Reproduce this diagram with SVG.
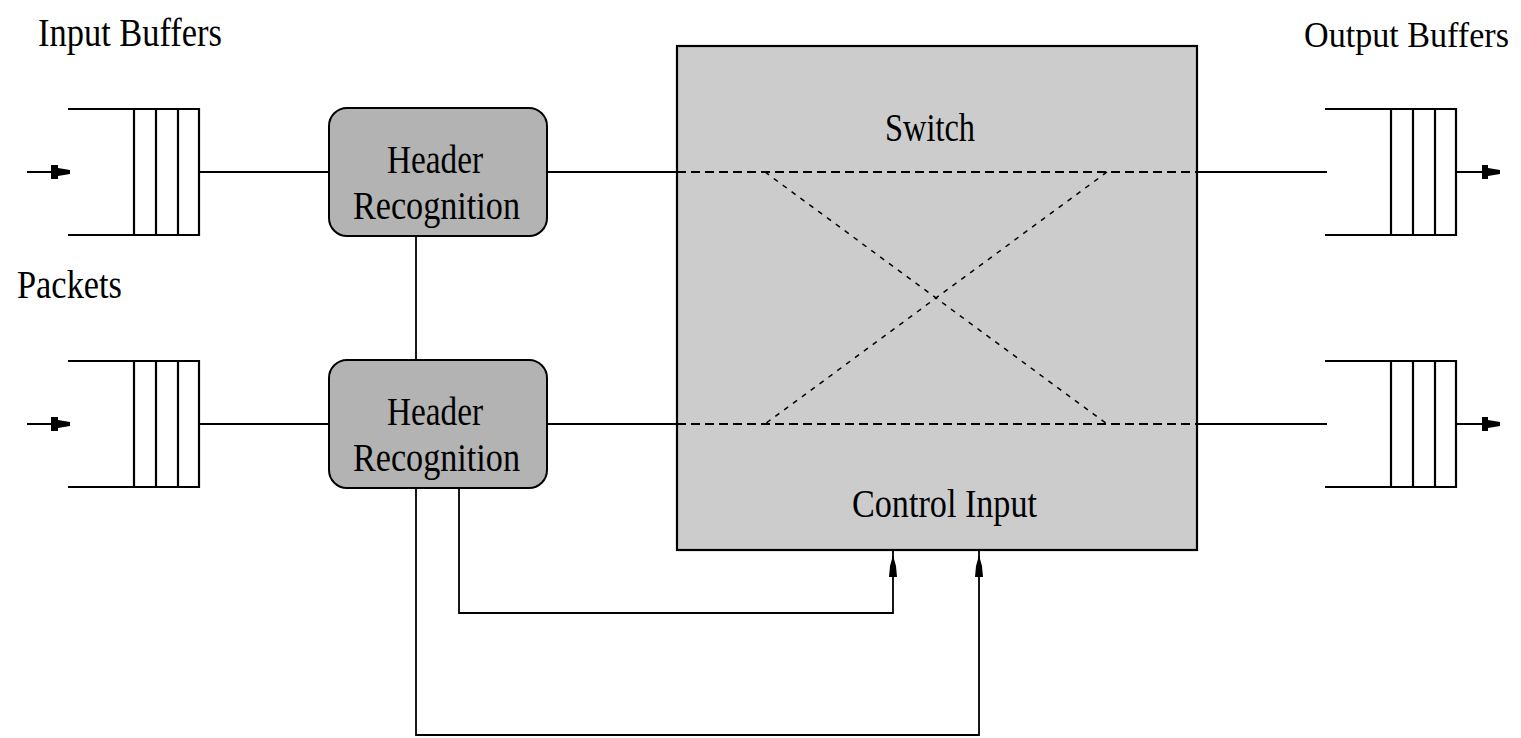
<svg xmlns="http://www.w3.org/2000/svg" width="1521" height="738" viewBox="0 0 1521 738">
<style>
.ln{stroke:#000;stroke-width:2.2;fill:none}
.thin{stroke:#000;stroke-width:1.8;fill:none}
.dash{stroke:#000;stroke-width:2.2;fill:none;stroke-dasharray:9 5}
.dot{stroke:#000;stroke-width:1.5;fill:none;stroke-dasharray:5 6}
.hdr{fill:#b3b3b3;stroke:#000;stroke-width:2}
.sw{fill:#cccccc;stroke:#000;stroke-width:2.2}
.t{font-family:"Liberation Serif","Times New Roman",serif;font-size:41px;fill:#000}
.ah{fill:#000}
</style>
<rect width="1521" height="738" fill="#fff"/>
<defs>
<g id="queue">
<path class="ln" d="M0,0 H131 V126 H0 M66,0 V126 M88,0 V126 M110,0 V126"/>
</g>
</defs>

<g id="labels">
<text class="t" x="38" y="46" textLength="184" lengthAdjust="spacingAndGlyphs">Input Buffers</text>
<text class="t" x="17" y="298" textLength="105" lengthAdjust="spacingAndGlyphs">Packets</text>
<text class="t" x="1304" y="47" textLength="205" lengthAdjust="spacingAndGlyphs" style="font-size:35px">Output Buffers</text>
</g>

<g id="switch">
<rect class="sw" x="677" y="46" width="520" height="504"/>
<text class="t" x="885" y="141" textLength="90" lengthAdjust="spacingAndGlyphs">Switch</text>
<text class="t" x="852" y="517" textLength="185" lengthAdjust="spacingAndGlyphs">Control Input</text>
<line class="dash" x1="677" y1="172" x2="1197" y2="172"/>
<line class="dash" x1="677" y1="424" x2="1197" y2="424"/>
<line class="dot" x1="765" y1="172" x2="1107" y2="424"/>
<line class="dot" x1="1107" y1="172" x2="765" y2="424"/>
</g>

<g id="input-buffer-1"><use href="#queue" x="68" y="109"/></g>
<g id="input-buffer-2"><use href="#queue" x="68" y="361"/></g>
<g id="output-buffer-1"><use href="#queue" x="1325" y="109"/></g>
<g id="output-buffer-2"><use href="#queue" x="1325" y="361"/></g>

<g id="header-1">
<rect class="hdr" x="329" y="108" width="218" height="128" rx="18" ry="18"/>
<text class="t" x="387" y="173" textLength="96" lengthAdjust="spacingAndGlyphs">Header</text>
<text class="t" x="353" y="219" textLength="167" lengthAdjust="spacingAndGlyphs">Recognition</text>
</g>
<g id="header-2">
<rect class="hdr" x="329" y="360" width="218" height="128" rx="18" ry="18"/>
<text class="t" x="387" y="425" textLength="96" lengthAdjust="spacingAndGlyphs">Header</text>
<text class="t" x="353" y="471" textLength="167" lengthAdjust="spacingAndGlyphs">Recognition</text>
</g>

<g id="connectors">
<line class="ln" x1="27" y1="172" x2="60" y2="172"/>
<polygon class="ah" points="51,165 58,165 58,168 70,170 70,174 58,176 58,179 51,179"/>
<line class="ln" x1="27" y1="424" x2="60" y2="424"/>
<polygon class="ah" points="51,417 58,417 58,420 70,422 70,426 58,428 58,431 51,431"/>

<line class="ln" x1="199" y1="172" x2="329" y2="172"/>
<line class="ln" x1="199" y1="424" x2="329" y2="424"/>
<line class="ln" x1="547" y1="172" x2="677" y2="172"/>
<line class="ln" x1="547" y1="424" x2="677" y2="424"/>
<line class="ln" x1="1197" y1="172" x2="1327" y2="172"/>
<line class="ln" x1="1197" y1="424" x2="1327" y2="424"/>

<line class="ln" x1="1456" y1="172" x2="1490" y2="172"/>
<polygon class="ah" points="1482,165 1488,165 1488,168 1500,170 1500,174 1488,176 1488,179 1482,179"/>
<line class="ln" x1="1456" y1="424" x2="1490" y2="424"/>
<polygon class="ah" points="1482,417 1488,417 1488,420 1500,422 1500,426 1488,428 1488,431 1482,431"/>

<line class="thin" x1="416" y1="236" x2="416" y2="360"/>
<polyline class="thin" points="416,488 416,735 979,735 979,556"/>
<polyline class="thin" points="459,488 459,613 893,613 893,556"/>
<polygon class="ah" points="889,577 897,577 896,566 894,559 892,559 890,566"/>
<line class="thin" x1="893" y1="550" x2="893" y2="560"/>
<polygon class="ah" points="975,577 983,577 982,566 980,559 978,559 976,566"/>
<line class="thin" x1="979" y1="550" x2="979" y2="560"/>
</g>
</svg>
